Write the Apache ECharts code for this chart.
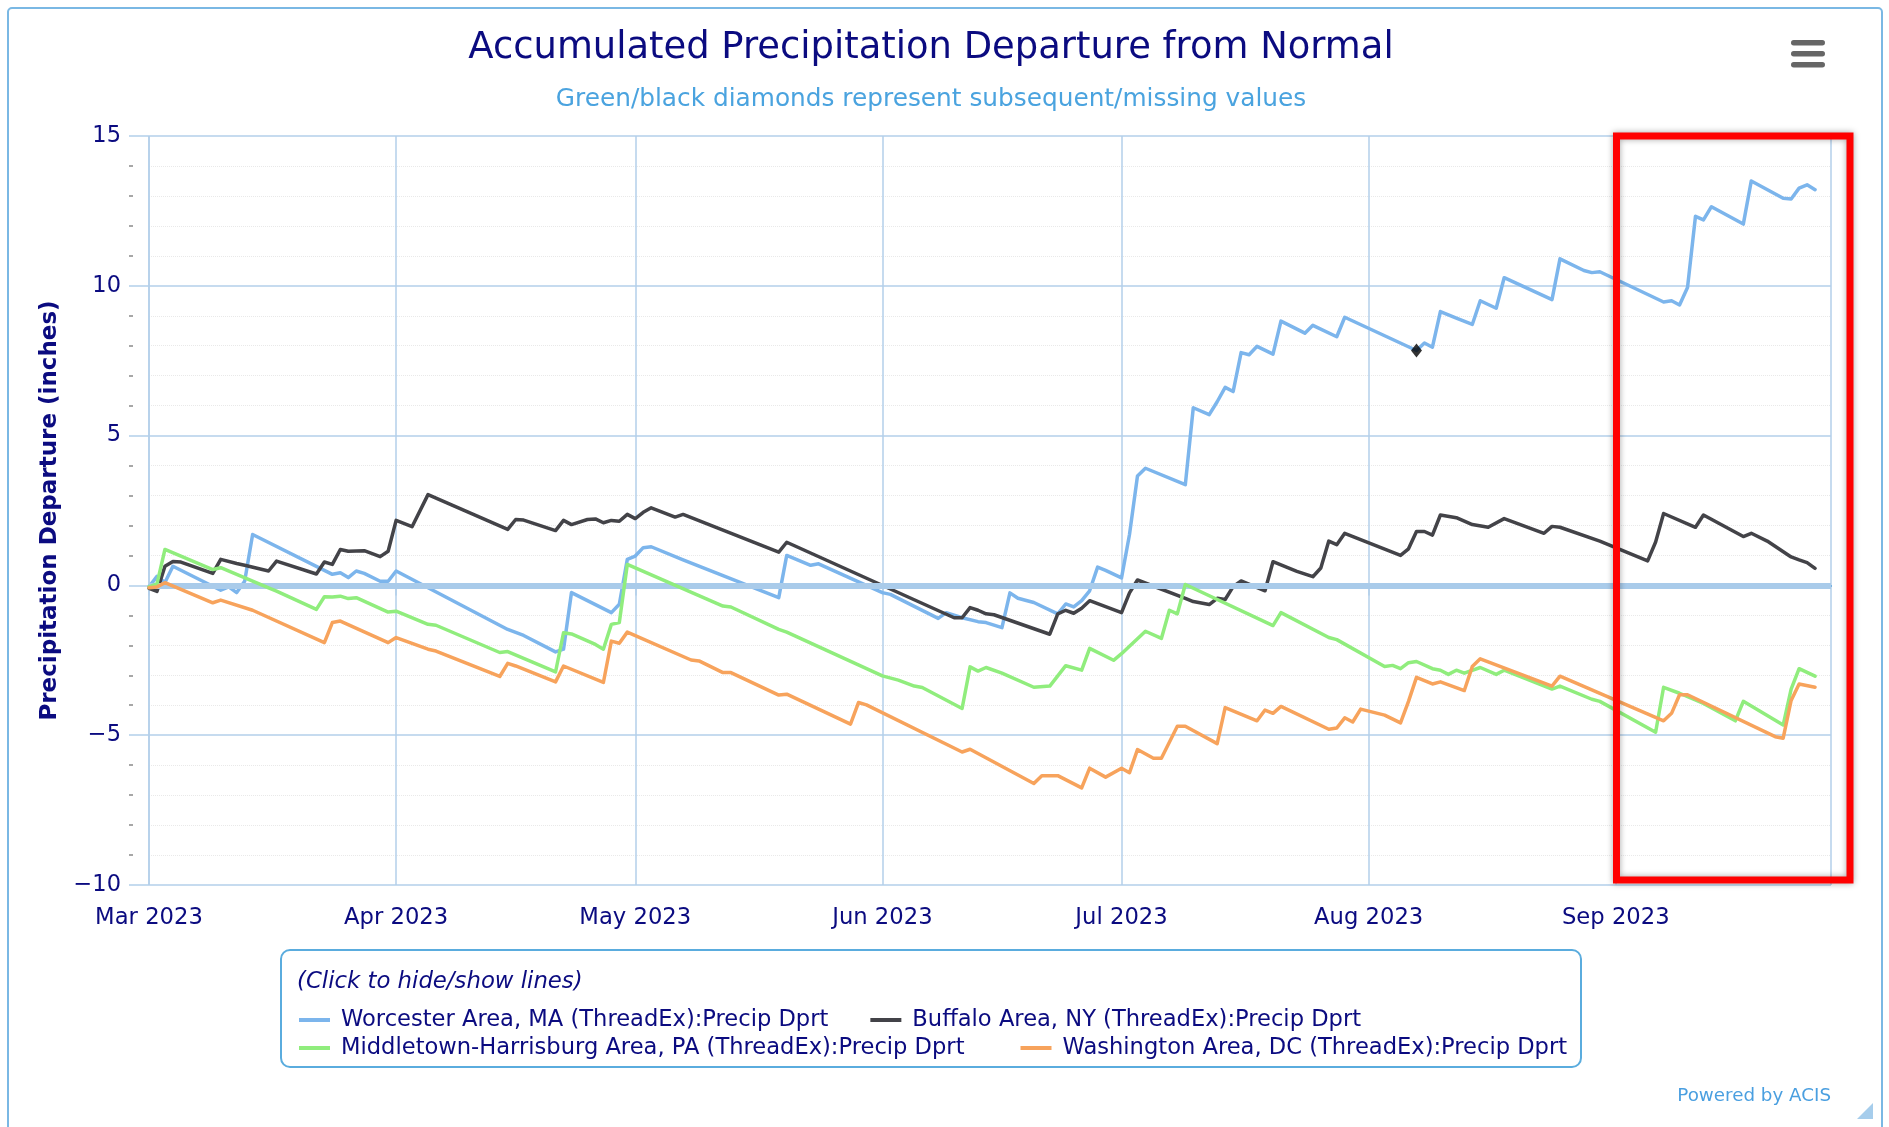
<!DOCTYPE html>
<html>
<head>
<meta charset="utf-8">
<title>Accumulated Precipitation Departure from Normal</title>
<script src="https://cdn.jsdelivr.net/npm/echarts@6/dist/echarts.min.js"></script>
<style>
	html, body { margin: 0; padding: 0; background: #fff; }
	#chart { width: 1889px; height: 1127px; }
</style>
</head>
<body>
<div id="chart"></div>
<script>
// days counted from 2023-03-01, values in inches
var worcesterDays = [0,1,2,3,9,10,11,12,13,23,24,25,26,27,29,30,31,45,47,51,52,53,58,59,60,61,62,63,67,79,80,83,84,92,93,99,100,102,104,105,107,108,109,111,114,115,116,117,118,119,120,122,123,124,125,130,131,133,134,135,136,137,138,139,141,142,145,146,149,150,159,160,161,162,164,166,167,169,170,176,177,180,181,182,190,191,192,193,194,195,196,200,201,205,206,207,208,209];
var worcesterVals = [-0.05,0.3,0.1,0.64,-0.16,-0.05,-0.24,0.14,1.7,0.37,0.42,0.26,0.48,0.4,0.14,0.14,0.48,-1.47,-1.67,-2.22,-2.13,-0.24,-0.91,-0.63,0.87,0.98,1.26,1.29,0.85,-0.41,1.0,0.67,0.72,-0.24,-0.3,-1.1,-0.91,-1.08,-1.21,-1.24,-1.41,-0.25,-0.43,-0.57,-0.95,-0.62,-0.72,-0.51,-0.18,0.61,0.5,0.25,1.7,3.65,3.91,3.36,5.93,5.7,6.13,6.61,6.47,7.77,7.7,7.98,7.72,8.82,8.42,8.68,8.3,8.95,7.84,8.09,7.95,9.14,8.92,8.71,9.5,9.25,10.27,9.54,10.9,10.51,10.44,10.47,9.46,9.5,9.36,9.94,12.32,12.2,12.64,12.06,13.5,12.92,12.9,13.26,13.37,13.21];

var buffaloDays = [0,1,2,3,4,8,9,11,12,15,16,21,22,23,24,25,27,29,30,31,33,35,45,46,47,51,52,53,55,56,57,58,59,60,61,62,63,66,67,79,80,101,102,103,104,105,106,113,114,115,116,117,118,122,123,124,130,131,133,134,135,136,137,140,141,144,146,147,148,149,150,157,158,159,160,161,162,164,166,168,170,175,176,177,182,188,189,190,194,195,200,201,203,206,207,208,209];
var buffaloVals = [-0.1,-0.2,0.64,0.8,0.78,0.4,0.87,0.73,0.67,0.48,0.81,0.38,0.78,0.7,1.2,1.14,1.16,0.96,1.14,2.17,1.96,3.03,1.87,2.2,2.18,1.83,2.17,2.03,2.2,2.22,2.09,2.17,2.14,2.37,2.23,2.44,2.59,2.28,2.37,1.11,1.44,-1.08,-1.08,-0.74,-0.83,-0.95,-0.98,-1.63,-0.95,-0.83,-0.93,-0.76,-0.51,-0.91,-0.25,0.18,-0.43,-0.54,-0.64,-0.43,-0.47,-0.04,0.15,-0.18,0.79,0.47,0.29,0.58,1.48,1.36,1.74,1.0,1.22,1.8,1.8,1.68,2.35,2.26,2.03,1.94,2.23,1.74,1.97,1.94,1.48,0.82,1.45,2.4,1.94,2.35,1.63,1.74,1.48,0.95,0.85,0.76,0.57];

var middletownDays = [0,1,2,8,9,15,16,21,22,23,24,25,26,30,31,35,36,44,45,51,52,53,56,57,58,59,60,72,73,79,80,92,94,96,97,102,103,104,105,107,111,113,115,117,118,121,122,125,127,128,129,130,141,142,148,149,155,156,157,158,159,161,162,163,164,165,167,169,170,176,177,181,182,189,190,192,195,199,200,205,206,207,209];
var middletownVals = [-0.05,0.05,1.2,0.53,0.59,-0.08,-0.19,-0.8,-0.38,-0.39,-0.36,-0.44,-0.41,-0.89,-0.86,-1.3,-1.33,-2.24,-2.21,-2.89,-1.58,-1.62,-1.97,-2.13,-1.3,-1.24,0.7,-0.69,-0.72,-1.47,-1.56,-3.02,-3.16,-3.36,-3.41,-4.11,-2.72,-2.86,-2.74,-2.93,-3.4,-3.36,-2.68,-2.83,-2.1,-2.5,-2.28,-1.53,-1.77,-0.83,-0.95,0.03,-1.34,-0.91,-1.74,-1.81,-2.71,-2.67,-2.78,-2.58,-2.54,-2.78,-2.83,-2.97,-2.83,-2.93,-2.74,-2.97,-2.83,-3.46,-3.36,-3.8,-3.87,-4.9,-3.4,-3.6,-3.94,-4.52,-3.87,-4.66,-3.46,-2.78,-3.03];

var washingtonDays = [0,1,2,8,9,13,22,23,24,30,31,35,36,44,45,46,51,52,57,58,59,60,68,69,72,73,79,80,88,89,90,102,103,111,112,114,117,118,120,122,123,124,126,127,129,130,134,135,139,140,141,142,148,149,150,151,152,155,157,158,159,161,162,165,166,167,176,177,190,191,192,193,204,205,206,207,209];
var washingtonVals = [-0.08,-0.05,0.09,-0.58,-0.49,-0.83,-1.91,-1.24,-1.19,-1.91,-1.74,-2.13,-2.19,-3.04,-2.6,-2.69,-3.22,-2.69,-3.24,-1.86,-1.93,-1.56,-2.49,-2.52,-2.91,-2.91,-3.66,-3.63,-4.63,-3.91,-3.99,-5.56,-5.47,-6.61,-6.35,-6.35,-6.76,-6.1,-6.4,-6.1,-6.25,-5.48,-5.77,-5.77,-4.7,-4.7,-5.28,-4.08,-4.52,-4.16,-4.27,-4.04,-4.8,-4.76,-4.42,-4.56,-4.13,-4.33,-4.59,-3.87,-3.07,-3.29,-3.22,-3.51,-2.71,-2.45,-3.36,-3.03,-4.52,-4.27,-3.65,-3.65,-5.05,-5.1,-3.84,-3.29,-3.4];

// black diamond = missing value
var missingDays = [159];
var missingVals = [7.84];

var seriesNames = [
	'Worcester Area, MA (ThreadEx):Precip Dprt',
	'Buffalo Area, NY (ThreadEx):Precip Dprt',
	'Middletown-Harrisburg Area, PA (ThreadEx):Precip Dprt',
	'Washington Area, DC (ThreadEx):Precip Dprt'
];
var seriesColors = ['#7cb5ec', '#434348', '#90ed7d', '#f7a35c'];
var monthNames = ['Jan','Feb','Mar','Apr','May','Jun','Jul','Aug','Sep','Oct','Nov','Dec'];
var yTicks = [-10, -5, 0, 5, 10, 15];

var NAVY = '#0b0b80';
var GRID = '#b3cfea';
var FONT = 'DejaVu Sans';
var DAY = 86400000;

function dayToTime(d) {
	return new Date(2023, 2, 1 + d).getTime();
}
function pairs(days, vals) {
	return days.map(function (d, i) { return [dayToTime(d), vals[i]]; });
}

var seriesData = [
	pairs(worcesterDays, worcesterVals),
	pairs(buffaloDays, buffaloVals),
	pairs(middletownDays, middletownVals),
	pairs(washingtonDays, washingtonVals)
];

var myChart = echarts.init(document.getElementById('chart'), null, { renderer: 'canvas' });

var lineSeries = seriesNames.map(function (name, i) {
	return {
		name: name,
		type: 'line',
		data: seriesData[i],
		showSymbol: false,
		symbol: 'none',
		z: 3 + i,
		color: seriesColors[i],
		lineStyle: { width: 3.5, color: seriesColors[i], join: 'round', cap: 'round' },
		itemStyle: { color: seriesColors[i] },
		emphasis: { disabled: true }
	};
});

var legendText = { fontSize: 22.6, color: NAVY, fontFamily: FONT, lineHeight: 24, padding: [0, 0, 0, 6] };

var option = {
	animation: false,
	backgroundColor: '#fff',
	title: {
		text: 'Accumulated Precipitation Departure from Normal',
		subtext: 'Green/black diamonds represent subsequent/missing values',
		left: 931,
		top: 29.5,
		padding: 0,
		itemGap: 20.5,
		textAlign: 'center',
		textStyle: { fontSize: 36.9, fontWeight: 'normal', color: NAVY, fontFamily: FONT },
		subtextStyle: { fontSize: 24.8, color: '#4aa3df', fontFamily: FONT }
	},
	legend: [{
		data: [seriesNames[0], seriesNames[1]],
		left: 299, top: 1008, padding: 0,
		icon: 'rect', itemWidth: 31, itemHeight: 4, itemGap: 42,
		textStyle: legendText
	}, {
		data: [seriesNames[2], seriesNames[3]],
		left: 299, top: 1036, padding: 0,
		icon: 'rect', itemWidth: 31, itemHeight: 4, itemGap: 56,
		textStyle: legendText
	}],
	grid: { left: 149, right: 58, top: 136, bottom: 242, containLabel: false, outerBoundsMode: 'none' },
	xAxis: {
		type: 'time',
		min: dayToTime(0),
		max: dayToTime(211),
		minInterval: 28 * DAY,
		maxInterval: 31 * DAY,
		axisLine: { show: true, lineStyle: { color: '#5ea5dd', width: 2 } },
		axisTick: { show: true, length: 10, lineStyle: { color: GRID, width: 1.5 } },
		axisLabel: {
			fontSize: 22.7, color: NAVY, fontFamily: FONT, margin: 22,
			formatter: function (value) {
				var d = new Date(value);
				return monthNames[d.getMonth()] + ' ' + d.getFullYear();
			}
		},
		splitLine: { show: true, lineStyle: { color: GRID, width: 1.5 } }
	},
	yAxis: [{
		type: 'value',
		min: yTicks[0],
		max: yTicks[yTicks.length - 1],
		interval: 5,
		name: 'Precipitation Departure (inches)',
		nameLocation: 'middle',
		nameRotate: 90,
		nameGap: 87,
		nameTextStyle: { fontSize: 23, fontWeight: 'bold', color: NAVY, fontFamily: FONT },
		axisLine: { show: false },
		axisTick: { show: true, length: 20, lineStyle: { color: GRID, width: 1.5 } },
		axisLabel: {
			fontSize: 22.5, color: NAVY, fontFamily: FONT, margin: 28,
			formatter: function (v) { return String(v).replace('-', '\u2212'); }
		},
		splitLine: { show: true, lineStyle: { color: GRID, width: 1.5 } },
		minorTick: { show: false, splitNumber: 5 },
		minorSplitLine: { show: true, lineStyle: { color: '#e9e9e9', type: 'dotted', width: 1 } }
	}, {
		// only the little grey minor ticks left of the gridline stubs
		type: 'value',
		position: 'left',
		offset: 16,
		min: yTicks[0],
		max: yTicks[yTicks.length - 1],
		interval: 5,
		axisLine: { show: false },
		axisTick: { show: false },
		axisLabel: { show: false },
		splitLine: { show: false },
		minorTick: { show: true, splitNumber: 5, length: 4, lineStyle: { color: '#8a8a8a', width: 1.5 } }
	}],
	series: [{
		// zero line
		name: 'zero',
		type: 'line',
		data: [],
		z: 1,
		markLine: {
			silent: true,
			symbol: 'none',
			label: { show: false },
			lineStyle: { color: '#a9cbea', width: 6, type: 'solid' },
			data: [{ yAxis: 0 }]
		}
	}].concat(lineSeries).concat([{
		name: 'missing',
		type: 'scatter',
		z: 10,
		symbol: 'diamond',
		symbolSize: [11, 14],
		itemStyle: { color: '#000' },
		data: pairs(missingDays, missingVals)
	}]),
	graphic: [
		// outer chart border
		{ type: 'rect', silent: true, z: 0, shape: { x: 8, y: 8, width: 1874, height: 1140, r: 4 }, style: { fill: 'none', stroke: '#7ab8e4', lineWidth: 2 } },
		// legend frame
		{ type: 'rect', silent: true, shape: { x: 281, y: 950, width: 1300, height: 117, r: 9 }, style: { fill: 'none', stroke: '#5aacde', lineWidth: 2 } },
		{ type: 'text', silent: true, x: 297, y: 982, style: { text: '(Click to hide/show lines)', fontSize: 22.8, fontStyle: 'italic', fontFamily: FONT, fill: NAVY, verticalAlign: 'middle' } },
		// menu button
		{ type: 'rect', silent: true, shape: { x: 1791, y: 40, width: 34, height: 5.5, r: 2.7 }, style: { fill: '#666' } },
		{ type: 'rect', silent: true, shape: { x: 1791, y: 51, width: 34, height: 5.5, r: 2.7 }, style: { fill: '#666' } },
		{ type: 'rect', silent: true, shape: { x: 1791, y: 62, width: 34, height: 5.5, r: 2.7 }, style: { fill: '#666' } },
		// credits
		{ type: 'text', silent: true, x: 1831, y: 1096, style: { text: 'Powered by ACIS', fontSize: 18.3, fontFamily: FONT, fill: '#4a9fe0', align: 'right', verticalAlign: 'middle' } },
		{ type: 'polygon', silent: true, shape: { points: [[1873, 1103], [1873, 1119], [1857, 1119]] }, style: { fill: '#a6cdec' } },
		// red highlight box
		{ type: 'rect', silent: true, z: 100, shape: { x: 1616.5, y: 136, width: 233.5, height: 744 }, style: { fill: 'none', stroke: '#ff0000', lineWidth: 7, shadowBlur: 6, shadowColor: 'rgba(0,0,0,0.35)' } }
	]
};

myChart.setOption(option);

window.onresize = function () {
	myChart.resize();
};
</script>
</body>
</html>
